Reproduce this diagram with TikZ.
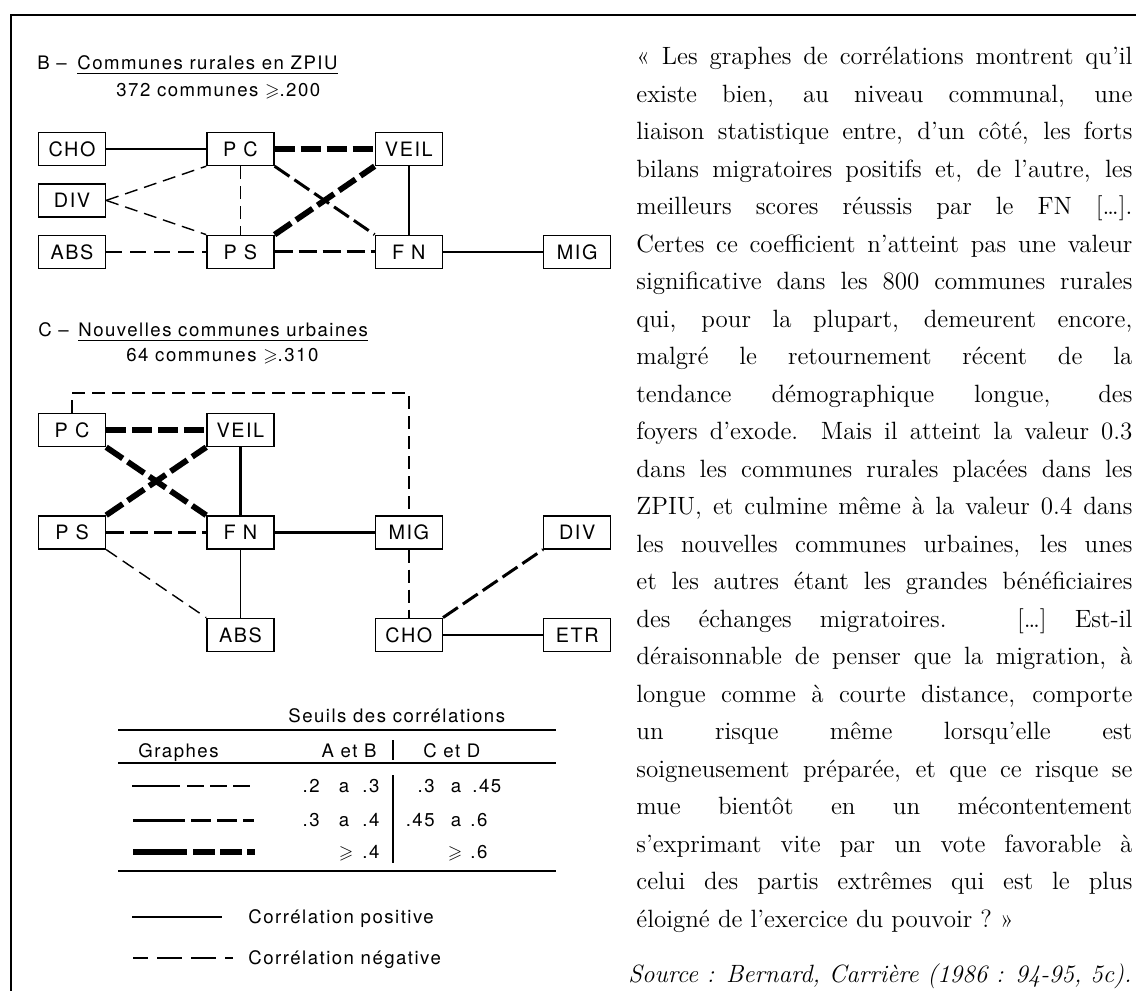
\documentclass[tikz,border=0pt]{standalone}
\usepackage{fontspec}
\usepackage{amssymb}
\usetikzlibrary{positioning}
\newfontfamily\grfont[LetterSpace=8]{TeX Gyre Heros}
\tikzstyle{every box} = []
\tikzstyle{lbl} = [inner sep=0pt, font=\grfont\fontsize{9.3}{11}\selectfont]
\tikzstyle{box} = [draw, rectangle, line width=0.7pt, minimum width=33.5pt, minimum height=16.5pt,
                   inner sep=0pt, font=\grfont\fontsize{9.9}{11}\selectfont, every box]
\tikzstyle{plink} = [draw, line width=0.7pt]
\tikzstyle{pmlink} = [draw, line width=1.1pt]
\tikzstyle{nlink} = [draw, line width=0.7pt, dash pattern=on 6.5pt off 3.5pt]
\tikzstyle{nmlink} = [draw, line width=1.5pt, dash pattern=on 9pt off 3pt]
\tikzstyle{nblink} = [draw, line width=2.9pt, dash pattern=on 10pt off 3pt]
\tikzstyle{rule} = [draw, line width=0.7pt]

\begin{document}
\begin{tikzpicture}[x=0.5pt, y=-0.5pt]
    \useasboundingbox (0,0) rectangle (1136,991);
    \draw[line width=1pt] (1136,15) -- (11,15) -- (11,991);

    % B - communes rurales en ZPIU
    \node[lbl, anchor=base west] (btag) at (37,69.5) {B –};
    \node[lbl, anchor=base west] (btitle) at (77,69.5) {Communes rurales en ZPIU};
    \draw[rule] ([yshift=-2pt]btitle.base west) -- ([yshift=-2pt]btitle.base east);
    \node[lbl, anchor=base west] (bsub) at (116,96.5) {372 communes $\geqslant$.200};

    \node[box] (bcho) at (72,149) {CHO};
    \node[box, right=50pt of bcho] (bpc) {P C};
    \node[box, right=50pt of bpc] (bveil) {VEIL};
    \node[box, below=8.5pt of bcho] (bdiv) {DIV};
    \node[box, below=8.5pt of bdiv] (babs) {ABS};
    \node[box, right=50pt of babs] (bps) {P S};
    \node[box, right=50pt of bps] (bfn) {F N};
    \node[box, right=50pt of bfn] (bmig) {MIG};

    \draw[plink] (bcho) -- (bpc);
    \draw[nblink] (bpc) -- (bveil);
    \draw[nlink] (bpc) -- (bps);
    \draw[nlink] (bdiv.east) -- (bpc.south west);
    \draw[nlink] (bdiv.east) -- (bps.north west);
    \draw[nmlink] (bpc.south east) -- (bfn.north west);
    \draw[nblink] (bps.north east) -- (bveil.south west);
    \draw[plink] (bveil) -- (bfn);
    \draw[nlink, dash pattern=on 8pt off 4pt] (babs) -- (bps);
    \draw[nmlink] (bps) -- (bfn);
    \draw[pmlink] (bfn) -- (bmig);

    % C - nouvelles communes urbaines
    \node[lbl, anchor=base west] (ctag) at (38,336.5) {C –};
    \node[lbl, anchor=base west] (ctitle) at (78,336.5) {Nouvelles communes urbaines};
    \draw[rule] ([yshift=-2pt]ctitle.base west) -- ([yshift=-2pt]ctitle.base east);
    \node[lbl, anchor=base west] (csub) at (126,361.5) {64 communes $\geqslant$.310};

    \node[box] (cpc) at (72,430) {P C};
    \node[box, right=50pt of cpc] (cveil) {VEIL};
    \node[box, below=34pt of cpc] (cps) {P S};
    \node[box, right=50pt of cps] (cfn) {F N};
    \node[box, right=50pt of cfn] (cmig) {MIG};
    \node[box, right=50pt of cmig] (cdiv) {DIV};
    \node[box, below=34pt of cfn] (cabs) {ABS};
    \node[box, right=50pt of cabs] (ccho) {CHO};
    \node[box, right=50pt of ccho] (cetr) {ETR};

    \draw[nlink] (cpc.north) -- ++(0,-20) -| (cmig.north);
    \draw[nblink] (cpc) -- (cveil);
    \draw[nblink] (cpc.south east) -- (cfn.north west);
    \draw[nblink] (cps.north east) -- (cveil.south west);
    \draw[pmlink] (cveil) -- (cfn);
    \draw[nmlink] (cps) -- (cfn);
    \draw[pmlink] (cfn) -- (cmig);
    \draw[nlink] (cps.south east) -- (cabs.north west);
    \draw[plink] (cfn) -- (cabs);
    \draw[nlink] (cmig) -- (ccho);
    \draw[nmlink] (ccho.north east) -- (cdiv.south west);
    \draw[plink] (ccho) -- (cetr);

    % seuils
    \node[lbl, anchor=base west] (seuils) at (288,722.5) {Seuils des corrélations};
    \draw[rule] (118,730) -- (556,730);
    \node[lbl, anchor=base west] (graphes) at (138,757.5) {Graphes};
    \node[lbl, anchor=base east] (ab) at (377,757.5) {A et B};
    \node[lbl, anchor=base west] (cd) at (423,757.5) {C et D};
    \draw[rule] (393,740) -- (393,760);
    \draw[rule] (118,763) -- (556,763);
    \draw[rule] (393,775) -- (393,863);
    \draw[rule] (118,871) -- (556,871);

    \draw[plink] (132,786) -- (180,786);
    \draw[nlink, dash pattern=on 8.5pt off 3pt] (187,786) -- (250,786);
    \draw[nmlink, solid] (133,820) -- (185,820);
    \draw[nmlink, dash pattern=on 10pt off 3pt] (191,820) -- (254,820);
    \draw[nblink, solid] (133,852) -- (187,852);
    \draw[nblink, dash pattern=on 11pt off 2.5pt] (193,852) -- (255,852);

    \node[lbl, anchor=base east] (r1a) at (320,792.5) {.2};
    \node[lbl, anchor=base] (r1b) at (344,792.5) {a};
    \node[lbl, anchor=base west] (r1c) at (362,792.5) {.3};
    \node[lbl, anchor=base east] (r1d) at (435,792.5) {.3};
    \node[lbl, anchor=base] (r1e) at (456,792.5) {a};
    \node[lbl, anchor=base west] (r1f) at (472,792.5) {.45};

    \node[lbl, anchor=base east] (r2a) at (320,826.5) {.3};
    \node[lbl, anchor=base] (r2b) at (344,826.5) {a};
    \node[lbl, anchor=base west] (r2c) at (362,826.5) {.4};
    \node[lbl, anchor=base east] (r2d) at (435,826.5) {.45};
    \node[lbl, anchor=base] (r2e) at (456,826.5) {a};
    \node[lbl, anchor=base west] (r2f) at (470,826.5) {.6};

    \node[lbl, anchor=base] (r3b) at (346,858.5) {$\geqslant$};
    \node[lbl, anchor=base west] (r3c) at (362,858.5) {.4};
    \node[lbl, anchor=base] (r3e) at (455,858.5) {$\geqslant$};
    \node[lbl, anchor=base west] (r3f) at (470,858.5) {.6};

    % legende
    \draw[pmlink] (132,917) -- (222,917);
    \node[lbl, anchor=base west] (lpos) at (248,923.5) {Corrélation positive};
    \draw[pmlink, dash pattern=on 12.5pt off 4.5pt, dash phase=5pt] (133,958) -- (233,958);
    \node[lbl, anchor=base west] (lneg) at (248,964.5) {Corrélation négative};

    % citation
    \node[anchor=north west, inner sep=0pt, text width=248pt, align=justify,
          font=\fontsize{12.5}{18.75}\selectfont] (quote) at (636,47)
    {\tolerance=10000\relax\hyphenpenalty=10000\relax
    «~Les graphes de corrélations montrent qu’il\linebreak
    existe bien, au niveau communal, une\linebreak
    liaison statistique entre, d’un côté, les forts\linebreak
    bilans migratoires positifs et, de l’autre, les\linebreak
    meilleurs scores réussis par le FN […].\linebreak
    Certes ce coefficient n’atteint pas une valeur\linebreak
    significative dans les 800 communes rurales\linebreak
    qui, pour la plupart, demeurent encore,\linebreak
    malgré le retournement récent de la\linebreak
    tendance démographique longue, des\linebreak
    foyers d’exode. Mais il atteint la valeur 0.3\linebreak
    dans les communes rurales placées dans les\linebreak
    ZPIU, et culmine même à la valeur 0.4 dans\linebreak
    les nouvelles communes urbaines, les unes\linebreak
    et les autres étant les grandes bénéficiaires\linebreak
    des échanges migratoires. […] Est-il\linebreak
    déraisonnable de penser que la migration, à\linebreak
    longue comme à courte distance, comporte\linebreak
    un risque même lorsqu’elle est\linebreak
    soigneusement préparée, et que ce risque se\linebreak
    mue bientôt en un mécontentement\linebreak
    s’exprimant vite par un vote favorable à\linebreak
    celui des partis extrêmes qui est le plus\linebreak
    éloigné de l’exercice du pouvoir~?~»};
    \node[anchor=base east, inner sep=0pt, font=\fontsize{12.5}{15}\selectfont\itshape] (source) at (1132,982)
    {Source~: Bernard, Carrière (1986~: 94-95, 5c).};
\end{tikzpicture}
\end{document}
